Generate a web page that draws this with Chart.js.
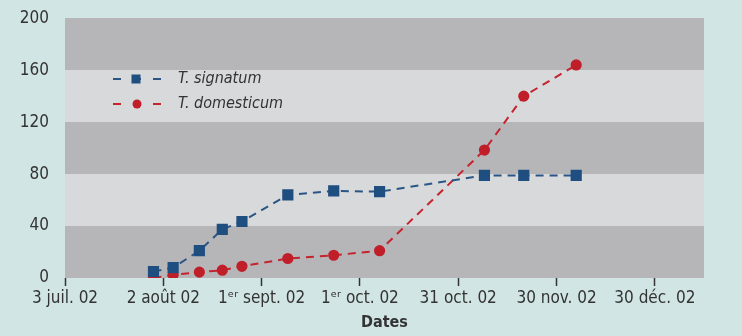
<!DOCTYPE html>
<html>
<head>
<meta charset="utf-8">
<script src="https://cdn.jsdelivr.net/npm/chart.js@4"></script>
<style>
    html, body { margin: 0; padding: 0; background: #d2e5e5; }
    #wrap { width: 742px; height: 336px; }
</style>
</head>
<body>
<div id="wrap"><canvas id="chart" width="742" height="336"></canvas></div>
<script>
// Days counted from 3 juil. 02
const tickDays = [0, 30, 60, 90, 120, 150, 180];
const tickLabels = ['3 juil. 02', '2 août 02', '1ᵉʳ sept. 02', '1ᵉʳ oct. 02', '31 oct. 02', '30 nov. 02', '30 déc. 02'];
const sampleDays = [27, 33, 41, 48, 54, 68, 82, 96, 128, 140, 156];
const signatum = [5, 8, 21, 37.5, 43.5, 64, 67, 66.5, 79, 79, 79];
const domesticum = [0, 2.5, 4.5, 6, 9, 15, 17.5, 21, 98.5, 140, 164];
const bandEdges = [0, 40, 80, 120, 160, 200];

const fontFamily = "'DejaVu Sans Condensed', 'Liberation Sans Narrow', sans-serif";

function toPoints(values) {
    return values.map((v, i) => ({ x: sampleDays[i], y: v }));
}

// Grey horizontal bands behind the plot
const bandsPlugin = {
    id: 'bands',
    beforeDatasetsDraw(chart) {
        const { ctx, chartArea, scales } = chart;
        ctx.save();
        for (let i = 0; i < bandEdges.length - 1; i++) {
            const top = Math.round(scales.y.getPixelForValue(bandEdges[i + 1]));
            const bottom = Math.round(scales.y.getPixelForValue(bandEdges[i]));
            ctx.fillStyle = i % 2 === 0 ? '#b6b6b8' : '#d8d9db';
            ctx.fillRect(chartArea.left, top, chartArea.right - chartArea.left, bottom - top);
        }
        ctx.restore();
    }
};

// Legend drawn inside the plot area
const innerLegend = {
    id: 'innerLegend',
    afterDraw(chart) {
        const { ctx } = chart;
        chart.data.datasets.forEach((ds, i) => {
            const y = 79 + i * 25;
            ctx.save();
            ctx.strokeStyle = ds.borderColor;
            ctx.lineWidth = 2;
            ctx.setLineDash([8, 12]);
            ctx.beginPath();
            ctx.moveTo(113, y);
            ctx.lineTo(162, y);
            ctx.stroke();
            ctx.setLineDash([]);
            ctx.fillStyle = ds.pointBackgroundColor;
            if (ds.pointStyle === 'rect') {
                ctx.fillRect(136 - 4.5, y - 4.5, 9, 9);
            } else {
                ctx.beginPath();
                ctx.arc(137, y, 4.5, 0, Math.PI * 2);
                ctx.fill();
            }
            ctx.fillStyle = '#333';
            ctx.font = "italic 16px " + fontFamily;
            ctx.textBaseline = 'middle';
            ctx.fillText(ds.label, 178, y);
            ctx.restore();
        });
    }
};

const ctx = document.getElementById('chart').getContext('2d');
const chart = new Chart(ctx, {
    type: 'line',
    data: {
        datasets: [{
            label: 'T. signatum',
            data: toPoints(signatum),
            borderColor: '#2a5585',
            backgroundColor: '#1f4f80',
            pointBackgroundColor: '#1f4f80',
            pointBorderColor: '#1f4f80',
            pointStyle: 'rect',
            pointRadius: 6.5,
            borderWidth: 2,
            borderDash: [8, 6],
            tension: 0
        }, {
            label: 'T. domesticum',
            data: toPoints(domesticum),
            borderColor: '#c4242e',
            backgroundColor: '#c01f2a',
            pointBackgroundColor: '#c01f2a',
            pointBorderColor: '#c01f2a',
            pointStyle: 'circle',
            pointRadius: 4.6,
            borderWidth: 2,
            borderDash: [8, 6],
            tension: 0
        }]
    },
    options: {
        responsive: false,
        animation: false,
        layout: { padding: { top: 14, right: 38, left: 0, bottom: 0 } },
        scales: {
            x: {
                type: 'linear',
                min: 0,
                max: 195,
                afterBuildTicks: function(scale) {
                    scale.ticks = tickDays.map(v => ({ value: v }));
                },
                afterFit: function(scale) {
                    scale.height = 58;
                },
                ticks: {
                    autoSkip: false,
                    maxRotation: 0,
                    padding: 2,
                    color: '#333',
                    font: { family: fontFamily, size: 17 },
                    callback: function(value) {
                        const i = tickDays.indexOf(value);
                        return i >= 0 ? tickLabels[i] : '';
                    }
                },
                grid: {
                    drawOnChartArea: false,
                    drawTicks: true,
                    tickLength: 8,
                    tickWidth: 1.5,
                    color: '#333'
                },
                border: { display: false },
                title: {
                    display: true,
                    text: 'Dates',
                    color: '#333',
                    font: { family: fontFamily, size: 16, weight: 'bold' },
                    padding: { top: 0, bottom: 4 }
                }
            },
            y: {
                min: 0,
                max: 200,
                afterBuildTicks: function(scale) {
                    scale.ticks = bandEdges.map(v => ({ value: v }));
                },
                afterFit: function(scale) {
                    scale.width = 65;
                },
                ticks: {
                    padding: 8,
                    color: '#333',
                    font: { family: fontFamily, size: 17 }
                },
                grid: { display: false },
                border: { display: false }
            }
        },
        plugins: {
            legend: { display: false },
            tooltip: { enabled: false }
        }
    },
    plugins: [bandsPlugin, innerLegend]
});
</script>
</body>
</html>
